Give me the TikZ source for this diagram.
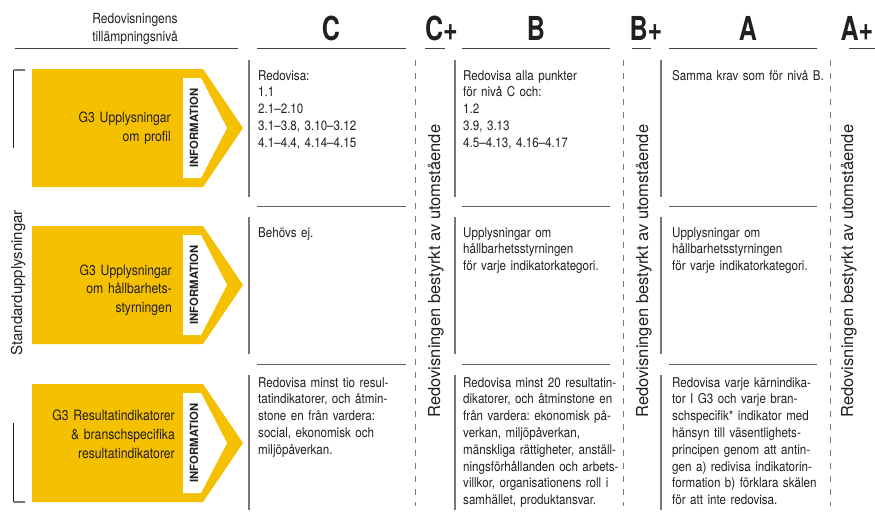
\documentclass[tikz,border=0pt]{standalone}
\usepackage{fontspec}
\setmainfont[FakeStretch=0.86]{TeX Gyre Heros}
\newfontfamily\rubrikfont[FakeStretch=0.76]{TeX Gyre Heros}
\newfontfamily\infofont{TeX Gyre Heros}
\usetikzlibrary{positioning}
\definecolor{gul}{RGB}{245,192,0}
\definecolor{mork}{RGB}{35,31,32}
\definecolor{gra}{RGB}{120,120,120}
\frenchspacing
\begin{document}
\begin{tikzpicture}[x=1pt, y=-1pt,
  every node/.style={inner sep=0pt, text=mork},
  rubrik/.style={anchor=base, font=\rubrikfont\bfseries\fontsize{33}{33}\selectfont},
  brodtext/.style={anchor=base west, text width=170pt, align=left, font=\fontsize{13.5}{16.8}\selectfont},
  piltext/.style={anchor=base east, text width=150pt, align=right, font=\fontsize{14.2}{18.8}\selectfont},
  infotext/.style={rotate=90, anchor=base, font=\infofont\bfseries\fontsize{11.3}{11.3}\selectfont},
  lodtext/.style={rotate=90, anchor=base, font=\infofont\fontsize{16.5}{16.5}\selectfont},
  strecklinje/.style={gra, line width=1pt, dash pattern=on 6pt off 7pt},
  kolumnlinje/.style={gra, line width=1.4pt},
  mellanlinje/.style={gra!80!black, line width=1pt},
  understruken/.style={mork!85, line width=1pt}]
\useasboundingbox (0,0) rectangle (875,515);

\foreach \y in {69,226,384}{
  \fill[gul] (32,\y) -- (203,\y) -- (243,\y+59) -- (203,\y+118) -- (32,\y+118) -- cycle;
  \fill[white] (183,\y+9) -- (201,\y+9) -- (227,\y+59) -- (201,\y+109) -- (183,\y+109) -- cycle;
  \node[infotext] (info\y) at (198,\y+59) {INFORMATION};
}

\node[align=center, font=\fontsize{14}{18}\selectfont] (niva) at (135,29) {Redovisningens\\tillämpningsnivå};
\foreach \a/\b in {15/238,257/406,425/445,462/610,632/651,669/817,849/875}
  \draw[understruken] (\a,48) -- (\b,48);
\node[rubrik] (C) at (331,40) {C};
\node[rubrik] (Cplus) at (441.5,40) {C+};
\node[rubrik] (B) at (536,40) {B};
\node[rubrik] (Bplus) at (646,40) {B+};
\node[rubrik] (A) at (748,40) {A};
\node[rubrik] (Aplus) at (857,40) {A+};

\foreach \x in {249,455,661}
  \foreach \a/\b in {60/197,217/354,375/510}
    \draw[kolumnlinje] (\x,\a) -- (\x,\b);
\foreach \a/\b in {257/406,462/610,669/817}
  \foreach \y in {206,364}
    \draw[mellanlinje] (\a,\y) -- (\b,\y);
\foreach \x in {415,623,830}
  \draw[strecklinje] (\x,60) -- (\x,506);
\foreach \x/\n in {440/cp,648/bp,853/ap}
  \node[lodtext] (bestyrkt\n) at (\x,271) {Redovisningen bestyrkt av utomstående};

\draw[mork, line width=1pt] (13.5,148) -- (13.5,70);
\draw[gra, line width=1.2pt] (13.5,70) -- (25,70);
\draw[mork, line width=1pt] (13.5,423) -- (13.5,502);
\draw[gra, line width=1.2pt] (13.5,502) -- (25,502);
\node[lodtext, font=\infofont\fontsize{15}{15}\selectfont] (standard) at (22,283) {Standardupplysningar};

\node[piltext] (profil) at (171,122.5) {G3 Upplysningar\\om profil};
\node[piltext] (styrning) at (172,275) {G3 Upplysningar\\om hållbarhets-\\styrningen};
\node[piltext] (resultat) at (175,420.5) {G3 Resultatindikatorer\\\& branschspecifika\\resultatindikatorer};

\node[brodtext] (c1) at (258,80) {Redovisa:\\1.1\\2.1–2.10\\3.1–3.8, 3.10–3.12\\4.1–4.4, 4.14–4.15};
\node[brodtext] (b1) at (463,80) {Redovisa alla punkter\\för nivå C och:\\1.2\\3.9, 3.13\\4.5–4.13, 4.16–4.17};
\node[brodtext] (a1) at (672,80) {Samma krav som för nivå B.};
\node[brodtext] (c2) at (258,237) {Behövs ej.};
\node[brodtext] (b2) at (463,237) {Upplysningar om\\hållbarhetsstyrningen\\för varje indikatorkategori.};
\node[brodtext] (a2) at (672,237) {Upplysningar om\\hållbarhetsstyrningen\\för varje indikatorkategori.};
\node[brodtext] (c3) at (258,387) {Redovisa minst tio resul-\\tatindikatorer, och åtmin-\\stone en från vardera:\\social, ekonomisk och\\miljöpåverkan.};
\node[brodtext] (b3) at (463,387) {Redovisa minst 20 resultatin-\\dikatorer, och åtminstone en\\från vardera: ekonomisk på-\\verkan, miljöpåverkan,\\mänskliga rättigheter, anställ-\\ningsförhållanden och arbets-\\villkor, organisationens roll i\\samhället, produktansvar.};
\node[brodtext] (a3) at (672,387) {Redovisa varje kärnindika-\\tor I G3 och varje bran-\\schspecifik* indikator med\\hänsyn till väsentlighets-\\principen genom att antin-\\gen a) redivisa indikatorin-\\formation b) förklara skälen\\för att inte redovisa.};
\end{tikzpicture}
\end{document}
